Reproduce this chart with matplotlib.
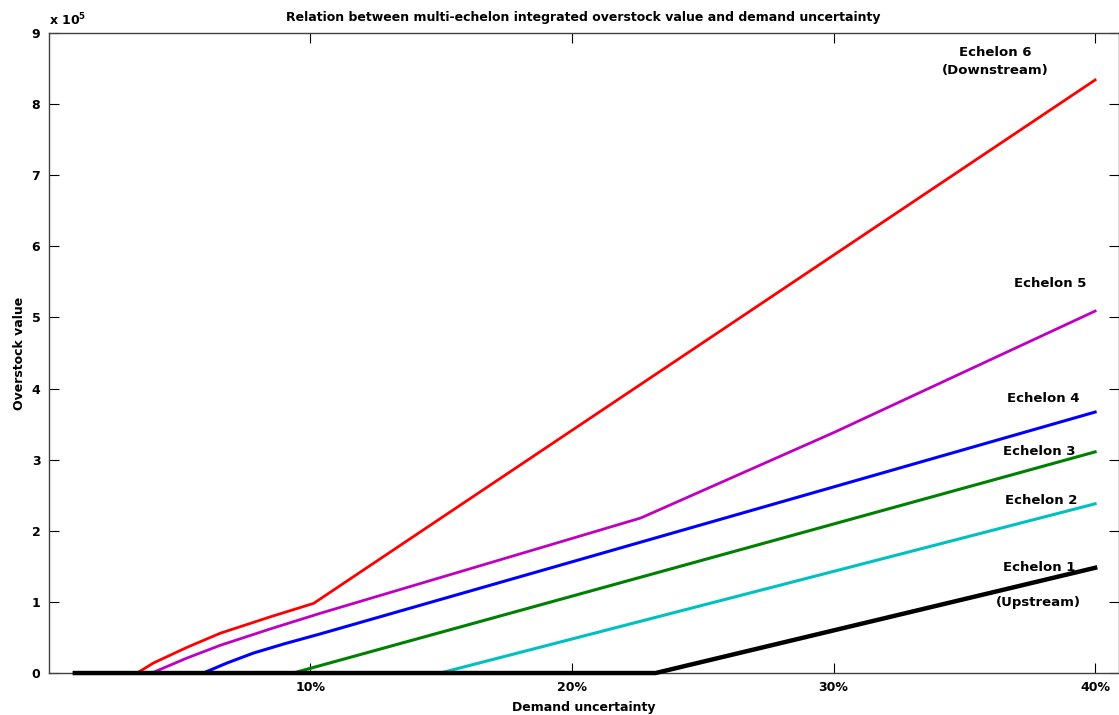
import matplotlib
matplotlib.use('Agg')
import matplotlib.pyplot as plt
from matplotlib.ticker import FixedLocator, FixedFormatter

plt.rcParams['font.family'] = 'DejaVu Sans'
plt.rcParams['font.weight'] = 'bold'

# demand uncertainty (fraction) vs overstock value (x 1e5) per echelon
x_e6 = [0.010, 0.0338, 0.040, 0.0528, 0.0656, 0.0847, 0.1013, 0.400]
y_e6 = [0.00, 0.00, 0.14, 0.36, 0.56, 0.79, 0.98, 8.34]

x_e5 = [0.010, 0.0394, 0.0528, 0.0656, 0.0847, 0.1038, 0.2263, 0.300, 0.400]
y_e5 = [0.00, 0.00, 0.21, 0.39, 0.62, 0.84, 2.18, 3.38, 5.09]

x_e4 = [0.010, 0.0591, 0.0681, 0.0782, 0.0900, 0.1038, 0.400]
y_e4 = [0.00, 0.00, 0.14, 0.28, 0.41, 0.55, 3.67]

x_e3 = [0.010, 0.0935, 0.400]
y_e3 = [0.00, 0.00, 3.11]

x_e2 = [0.010, 0.1497, 0.400]
y_e2 = [0.00, 0.00, 2.38]

x_e1 = [0.010, 0.232, 0.400]
y_e1 = [0.00, 0.00, 1.48]

x_ticks = [0.1, 0.2, 0.3, 0.4]
x_tick_labels = ['10%', '20%', '30%', '40%']
y_ticks = [0, 1, 2, 3, 4, 5, 6, 7, 8, 9]

fig = plt.figure(figsize=(11.19, 7.15), dpi=100)
ax = fig.add_axes([0.0435, 0.0587, 0.9562, 0.8951])

ax.plot(x_e6, y_e6, color='#ff0000', lw=2.0)
ax.plot(x_e5, y_e5, color='#c000c0', lw=2.0)
ax.plot(x_e4, y_e4, color='#0000ff', lw=2.2)
ax.plot(x_e3, y_e3, color='#008000', lw=2.2)
ax.plot(x_e2, y_e2, color='#00c0c0', lw=2.2)
ax.plot(x_e1, y_e1, color='#000000', lw=3.2, clip_on=False, zorder=3)

ax.set_xlim(0, 0.409)
ax.set_ylim(0, 9)

ax.xaxis.set_major_locator(FixedLocator(x_ticks))
ax.xaxis.set_major_formatter(FixedFormatter(x_tick_labels))
ax.set_yticks(y_ticks)
ax.tick_params(direction='in', length=7.5, width=0.8, top=True, right=True,
               labelsize=9, pad=6)
for lab in ax.get_xticklabels() + ax.get_yticklabels():
    lab.set_fontweight('bold')
for sp in ax.spines.values():
    sp.set_color('#404040')
    sp.set_linewidth(1.0)

ax.text(0.0, 1.008, r'x 10$^5$', transform=ax.transAxes, fontsize=9,
        fontweight='bold', ha='left', va='bottom')

ax.set_title('Relation between multi-echelon integrated overstock value and demand uncertainty',
             fontsize=9, fontweight='bold', pad=9)
ax.set_xlabel('Demand uncertainty', fontsize=9, fontweight='bold', labelpad=5)
ax.set_ylabel('Overstock value', fontsize=9, fontweight='bold', labelpad=4)

# curve labels
lbl = dict(fontsize=9.5, fontweight='bold', ha='center', va='center')
ax.text(0.3620, 8.72, 'Echelon 6', **lbl)
ax.text(0.3620, 8.47, '(Downstream)', **lbl)
ax.text(0.3829, 5.48, 'Echelon 5', **lbl)
ax.text(0.3802, 3.86, 'Echelon 4', **lbl)
ax.text(0.3786, 3.12, 'Echelon 3', **lbl)
ax.text(0.3794, 2.43, 'Echelon 2', **lbl)
ax.text(0.3786, 1.49, 'Echelon 1', **lbl)
ax.text(0.3782, 0.99, '(Upstream)', **lbl)

fig.savefig('out.png', dpi=100)
